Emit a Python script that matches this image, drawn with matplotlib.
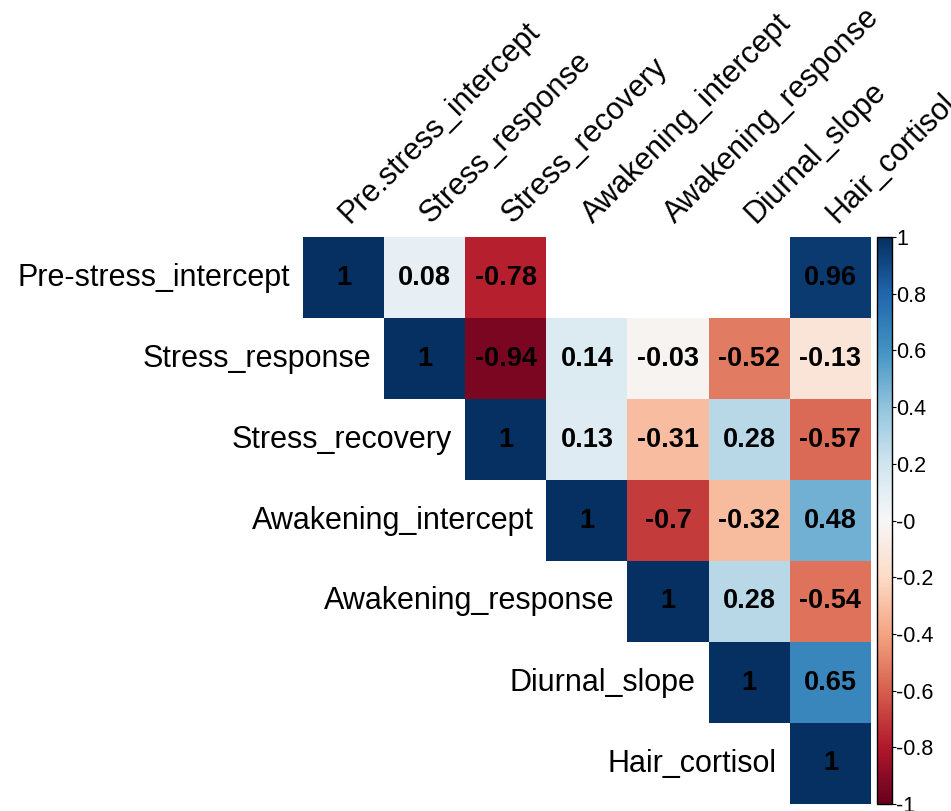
import matplotlib
matplotlib.use("Agg")
import matplotlib.pyplot as plt
import numpy as np

plt.rcParams['font.family'] = ['Liberation Sans', 'DejaVu Sans']

row_labels = ["Pre-stress_intercept", "Stress_response", "Stress_recovery",
              "Awakening_intercept", "Awakening_response", "Diurnal_slope",
              "Hair_cortisol"]
col_labels = ["Pre.stress_intercept", "Stress_response", "Stress_recovery",
              "Awakening_intercept", "Awakening_response", "Diurnal_slope",
              "Hair_cortisol"]

nan = np.nan
# upper triangle, blank = not shown
r_pre = [1, 0.08, -0.78, nan, nan, nan, 0.96]
r_sresp = [nan, 1, -0.94, 0.14, -0.03, -0.52, -0.13]
r_srec = [nan, nan, 1, 0.13, -0.31, 0.28, -0.57]
r_aint = [nan, nan, nan, 1, -0.7, -0.32, 0.48]
r_aresp = [nan, nan, nan, nan, 1, 0.28, -0.54]
r_diur = [nan, nan, nan, nan, nan, 1, 0.65]
r_hair = [nan, nan, nan, nan, nan, nan, 1]

corr = np.array([r_pre, r_sresp, r_srec, r_aint, r_aresp, r_diur, r_hair])
n = len(row_labels)

fig = plt.figure(figsize=(9.51, 8.11), dpi=100)
ax = fig.add_axes([303/951, 1-804/811, 568/951, 567/811])

cmap = plt.get_cmap('RdBu').copy()
cmap.set_bad('white')
im = ax.imshow(np.ma.masked_invalid(corr), cmap=cmap, vmin=-1, vmax=1,
               aspect='auto', interpolation='nearest')

for i in range(n):
    for j in range(n):
        v = corr[i, j]
        if np.isnan(v):
            continue
        txt = "1" if v == 1 else f"{v:g}"
        ax.text(j, i, txt, ha='center', va='center', fontsize=19.5,
                fontweight='bold', color='black')

# row labels to the left of the diagonal
for i, lab in enumerate(row_labels):
    ax.text(i - 0.66, i, lab, ha='right', va='center', fontsize=22)

# column labels on top, rotated
for j, lab in enumerate(col_labels):
    ax.text(j + 0.14, -0.6, lab, ha='left', va='bottom', rotation=45,
            rotation_mode='anchor', fontsize=22)

ax.set_xlim(-0.5, n - 0.5)
ax.set_ylim(n - 0.5, -0.5)
ax.axis('off')

ticks = np.round(np.arange(-1, 1.01, 0.2), 1)
cax = fig.add_axes([877/951, 1-804/811, 15/951, 567/811])
cb = fig.colorbar(im, cax=cax, ticks=ticks)
cb.ax.set_yticklabels([f"{t:g}" for t in ticks])
cb.ax.tick_params(labelsize=15.5, length=3, width=0.8, pad=0)
cb.outline.set_linewidth(1)

fig.savefig("out.png", dpi=100)
